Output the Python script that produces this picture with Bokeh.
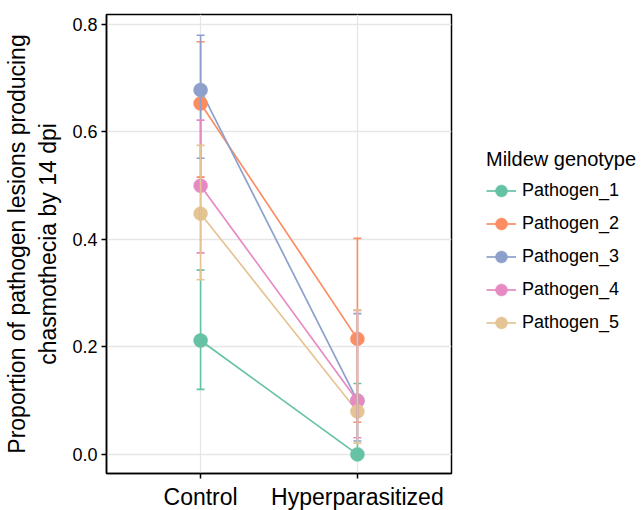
from bokeh.plotting import figure
from bokeh.models import (ColumnDataSource, Whisker, TeeHead, Legend, LegendItem,
                          FixedTicker, PrintfTickFormatter, FactorRange, Range1d)
from bokeh.embed import file_html
from bokeh.resources import INLINE

categories = ["Control", "Hyperparasitized"]
genotypes = ["Pathogen_1", "Pathogen_2", "Pathogen_3", "Pathogen_4", "Pathogen_5"]
colors = ["#66C2A5", "#FC8D62", "#8DA0CB", "#E78AC3", "#E5C494"]

control_mean = [0.212, 0.653, 0.678, 0.500, 0.448]
control_lower = [0.121, 0.516, 0.551, 0.375, 0.325]
control_upper = [0.343, 0.768, 0.780, 0.622, 0.575]

hyper_mean = [0.000, 0.215, 0.100, 0.100, 0.080]
hyper_lower = [0.000, 0.060, 0.025, 0.031, 0.021]
hyper_upper = [0.132, 0.402, 0.262, 0.268, 0.269]

y_ticks = [0.0, 0.2, 0.4, 0.6, 0.8]

FONT = "Liberation Sans"

p = figure(frame_width=345, frame_height=459,
           x_range=FactorRange(factors=categories, range_padding=0.1,
                               range_padding_units="absolute"),
           y_range=Range1d(-0.0355, 0.8186),
           output_backend="svg", toolbar_location=None,
           min_border_left=106, min_border_right=10,
           min_border_top=14, min_border_bottom=37)

p.background_fill_color = "white"
p.border_fill_color = "white"
p.outline_line_color = "black"
p.outline_line_width = 1.5

p.xgrid.grid_line_color = "#E6E6E6"
p.ygrid.grid_line_color = "#E6E6E6"
p.xgrid.grid_line_width = 1.3
p.ygrid.grid_line_width = 1.3

p.yaxis.ticker = FixedTicker(ticks=y_ticks)
p.yaxis.formatter = PrintfTickFormatter(format="%.1f")
p.yaxis.minor_tick_line_color = None
p.ygrid.ticker = FixedTicker(ticks=y_ticks)

for ax in (p.xaxis, p.yaxis):
    ax.axis_line_color = "black"
    ax.axis_line_width = 1.5
    ax.major_tick_line_color = "black"
    ax.major_tick_line_width = 1.5
    ax.major_tick_out = 5
    ax.major_tick_in = 0
    ax.major_label_text_font = FONT
    ax.major_label_text_color = "black"
    ax.axis_label_text_font = FONT
    ax.axis_label_text_font_style = "normal"
    ax.axis_label_text_color = "black"

p.yaxis.major_label_text_font_size = "18px"
p.xaxis.major_label_text_font_size = "23px"
p.yaxis.major_label_standoff = 4
p.xaxis.major_label_standoff = 5
p.yaxis.axis_label = "Proportion of pathogen lesions producing\nchasmothecia by 14 dpi"
p.yaxis.axis_label_text_font_size = "23px"
p.yaxis.axis_label_standoff = 8
p.yaxis.axis_label_text_align = "center"

items = []
line_rs = []
for i, g in enumerate(genotypes):
    src = ColumnDataSource(dict(
        x=categories,
        y=[control_mean[i], hyper_mean[i]],
        lo=[control_lower[i], hyper_lower[i]],
        hi=[control_upper[i], hyper_upper[i]],
    ))
    lr = p.line("x", "y", source=src, line_color=colors[i], line_width=1.7)
    line_rs.append((lr, src))

for i, g in enumerate(genotypes):
    lr, src = line_rs[i]
    sr = p.scatter("x", "y", source=src, size=14, fill_color=colors[i],
                   line_color=colors[i], line_width=0.5)
    items.append(LegendItem(label=g, renderers=[lr, sr]))

for i, g in enumerate(genotypes):
    lr, src = line_rs[i]
    w = Whisker(base="x", lower="lo", upper="hi", source=src, dimension="height",
                line_color=colors[i], line_width=1.6, level="annotation",
                upper_head=TeeHead(size=8, line_color=colors[i], line_width=1.6),
                lower_head=TeeHead(size=8, line_color=colors[i], line_width=1.6))
    p.add_layout(w)

legend = Legend(items=items, location=(35, 134), title="Mildew genotype")
legend.title_text_font = FONT
legend.title_text_font_size = "20px"
legend.title_text_font_style = "normal"
legend.title_text_color = "black"
legend.title_standoff = 3
legend.label_text_font = FONT
legend.label_text_font_size = "18px"
legend.label_text_color = "black"
legend.glyph_width = 30
legend.glyph_height = 33
legend.label_height = 33
legend.label_standoff = 6
legend.spacing = 0
legend.padding = 0
legend.margin = 0
legend.border_line_alpha = 0
legend.background_fill_alpha = 0
p.add_layout(legend, "right")

open("out.html", "w").write(file_html(p, INLINE))
